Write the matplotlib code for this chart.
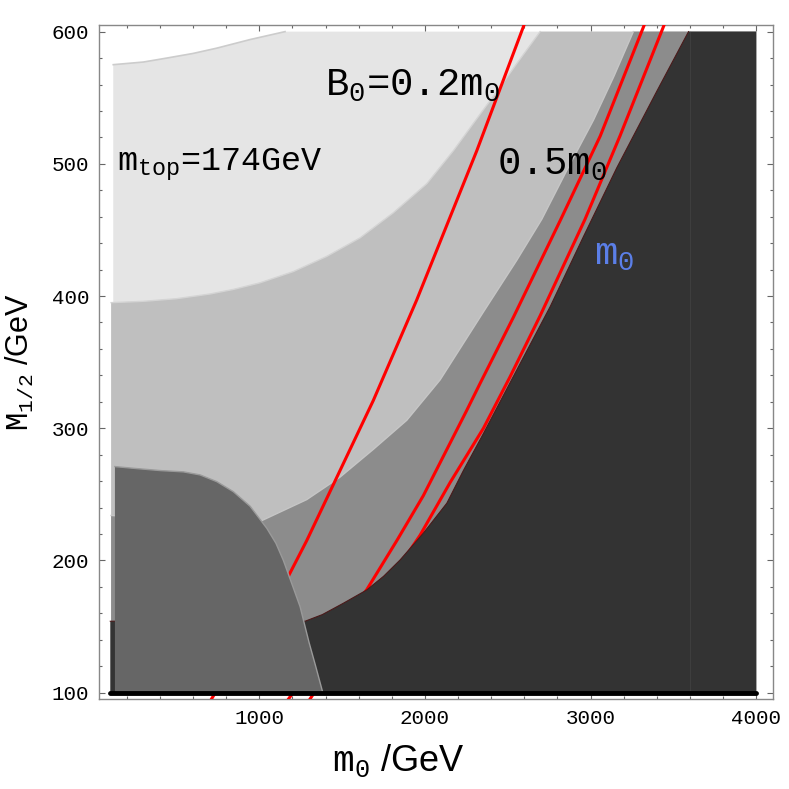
import matplotlib
matplotlib.use("Agg")
import matplotlib.pyplot as plt
from matplotlib.ticker import MultipleLocator

plt.rcParams.update({
    "font.family": ["Liberation Mono", "DejaVu Sans Mono"],
    "mathtext.fontset": "custom",
    "mathtext.rm": "Liberation Mono",
    "mathtext.it": "Liberation Mono",
    "mathtext.bf": "Liberation Mono:bold",
})

# --- region boundaries (m0 / GeV, M1/2 / GeV) ---
m0_light_top = [118, 300, 441, 600, 743, 944, 1155]
M_light_top = [575, 577, 580, 583.5, 587.5, 594, 600]

m0_mid_top = [105, 300, 500, 700, 843, 1004, 1205, 1407, 1608, 1809, 2011, 2172, 2353,
              2453, 2555, 2695]
M_mid_top = [395, 396, 398, 401.5, 405, 410, 418.5, 430, 444, 463, 485, 510, 541,
             558, 576, 600]

m0_gray_top = [105, 500, 800, 1004, 1286, 1487, 1688, 1890, 2091, 2292, 2353, 2554,
               2705, 2856, 3017, 3140, 3258]
M_gray_top = [234, 231, 230, 229.5, 246, 263, 284, 306, 336.5, 376, 388, 427,
              458, 495, 533, 566, 600]

m0_dark_top = [100, 1276, 1380, 1507, 1649, 1750, 1850, 1990, 2132, 2232, 2353, 2554,
               2756, 2957, 3158, 3400, 3591]
M_dark_top = [154, 154, 159, 167.6, 177.7, 188, 200.4, 220.6, 243.3, 268, 296, 344,
              392, 445, 497, 555, 600]

m0_blob = [128, 128, 239, 400, 541, 642, 743, 843, 944, 1045, 1100, 1145, 1200, 1246,
           1300, 1340, 1383]
M_blob = [100, 271, 269.7, 268, 267, 264.7, 259.6, 252, 241, 224.3, 213, 200, 181, 165,
          138, 120, 100]

# --- red contours ---
m0_lineA = [700, 1175, 1286, 1487, 1688, 1950, 2313, 2610]
M_lineA = [93, 188, 215, 268, 321, 397, 510, 609]
m0_lineB = [1175, 1649, 1830, 1990, 2250, 2333, 2534, 2816, 3058, 3330]
M_lineB = [95, 178, 215, 249, 313, 334, 384, 457, 521, 607]
m0_lineC = [1305, 1970, 2152, 2353, 2514, 2695, 2966, 3177, 3450]
M_lineC = [95, 219, 259, 300, 339, 385, 458, 521, 607]

M_MIN, M_MAX = 100, 600
M0_MAX = 4000

fig = plt.figure(figsize=(7.89, 7.89), dpi=100)
ax = fig.add_axes([0.1255, 0.1141, 0.8542, 0.8542])

# light region
xs = [m0_light_top[0]] + m0_light_top + [M0_MAX, M0_MAX]
ys = [M_MIN] + M_light_top + [M_MAX, M_MIN]
ax.fill(xs, ys, color="#e5e5e5", lw=0, zorder=1)
ax.plot(m0_light_top, M_light_top, color="#cccccc", lw=1.2, zorder=1.1)

# medium region
xs = [m0_mid_top[0]] + m0_mid_top + [M0_MAX, M0_MAX]
ys = [M_MIN] + M_mid_top + [M_MAX, M_MIN]
ax.fill(xs, ys, color="#bfbfbf", lw=0, zorder=2)
ax.plot(m0_mid_top, M_mid_top, color="#d4d4d4", lw=1.0, zorder=2.1)

# darker gray region
xs = [m0_gray_top[0]] + m0_gray_top + [M0_MAX, M0_MAX]
ys = [M_MIN] + M_gray_top + [M_MAX, M_MIN]
ax.fill(xs, ys, color="#8c8c8c", lw=0, zorder=3)
ax.plot(m0_gray_top, M_gray_top, color="#c6c6c6", lw=1.0, zorder=3.1)

# red lines (under the dark region and the blob)
for mx, my in [(m0_lineA, M_lineA), (m0_lineB, M_lineB), (m0_lineC, M_lineC)]:
    ax.plot(mx, my, color="#ff0000", lw=2.2, zorder=4)

# dark region
xs = [m0_dark_top[0]] + m0_dark_top + [M0_MAX, M0_MAX]
ys = [M_MIN] + M_dark_top + [M_MAX, M_MIN]
ax.fill(xs, ys, color="#333333", lw=0, zorder=5)
ax.plot(m0_dark_top, M_dark_top, color="#4a1a1a", lw=0.8, zorder=5.1)
ax.plot([3600, 3600], [M_MIN, M_MAX], color="#3e3e3e", lw=0.8, zorder=5.2)

# blob
ax.fill(m0_blob, M_blob, color="#666666", lw=0, zorder=6)
ax.plot(m0_blob[1:], M_blob[1:], color="#9a9a9a", lw=1.0, zorder=6.1)

# thick base line
ax.plot([100, M0_MAX], [M_MIN, M_MIN], color="black", lw=3.5,
        solid_capstyle="round", zorder=7, clip_on=False)

# labels
ax.text(1397, 551.4, r"B$_0$=0.2m$_0$", fontsize=28, ha="left", va="baseline", zorder=8)
ax.text(2435, 491.6, r"0.5m$_0$", fontsize=28, ha="left", va="baseline", zorder=8)
ax.text(3023, 423.5, r"m$_0$", fontsize=28, color="#5b7fe8", ha="left", va="baseline", zorder=8)
ax.text(139, 494.9, r"m$_{\mathrm{top}}$" + "=174GeV", fontsize=24, ha="left", va="baseline", zorder=8)

ax.set_xlim(32, 4101)
ax.set_ylim(95.2, 605)

ax.xaxis.set_major_locator(MultipleLocator(1000))
ax.xaxis.set_minor_locator(MultipleLocator(200))
ax.yaxis.set_major_locator(MultipleLocator(100))
ax.yaxis.set_minor_locator(MultipleLocator(20))
ax.tick_params(which="both", direction="in", top=True, right=True,
               color="#666666", labelsize=15, pad=7)
ax.tick_params(which="major", length=4.5, width=0.8)
ax.tick_params(which="minor", length=2.5, width=0.8)
for sp in ax.spines.values():
    sp.set_color("#888888")
    sp.set_linewidth(1.0)

ax.set_xlabel(r"$\mathrm{m_0}$ /GeV", fontsize=26, family=["Liberation Sans", "DejaVu Sans"])
ax.set_ylabel(r"$\mathrm{M_{1/2}}$ /GeV", fontsize=22, family=["Liberation Sans", "DejaVu Sans"])
ax.xaxis.set_label_coords(0.444, -0.064)
ax.yaxis.set_label_coords(-0.094, 0.5)

fig.savefig("out.png", dpi=100)
